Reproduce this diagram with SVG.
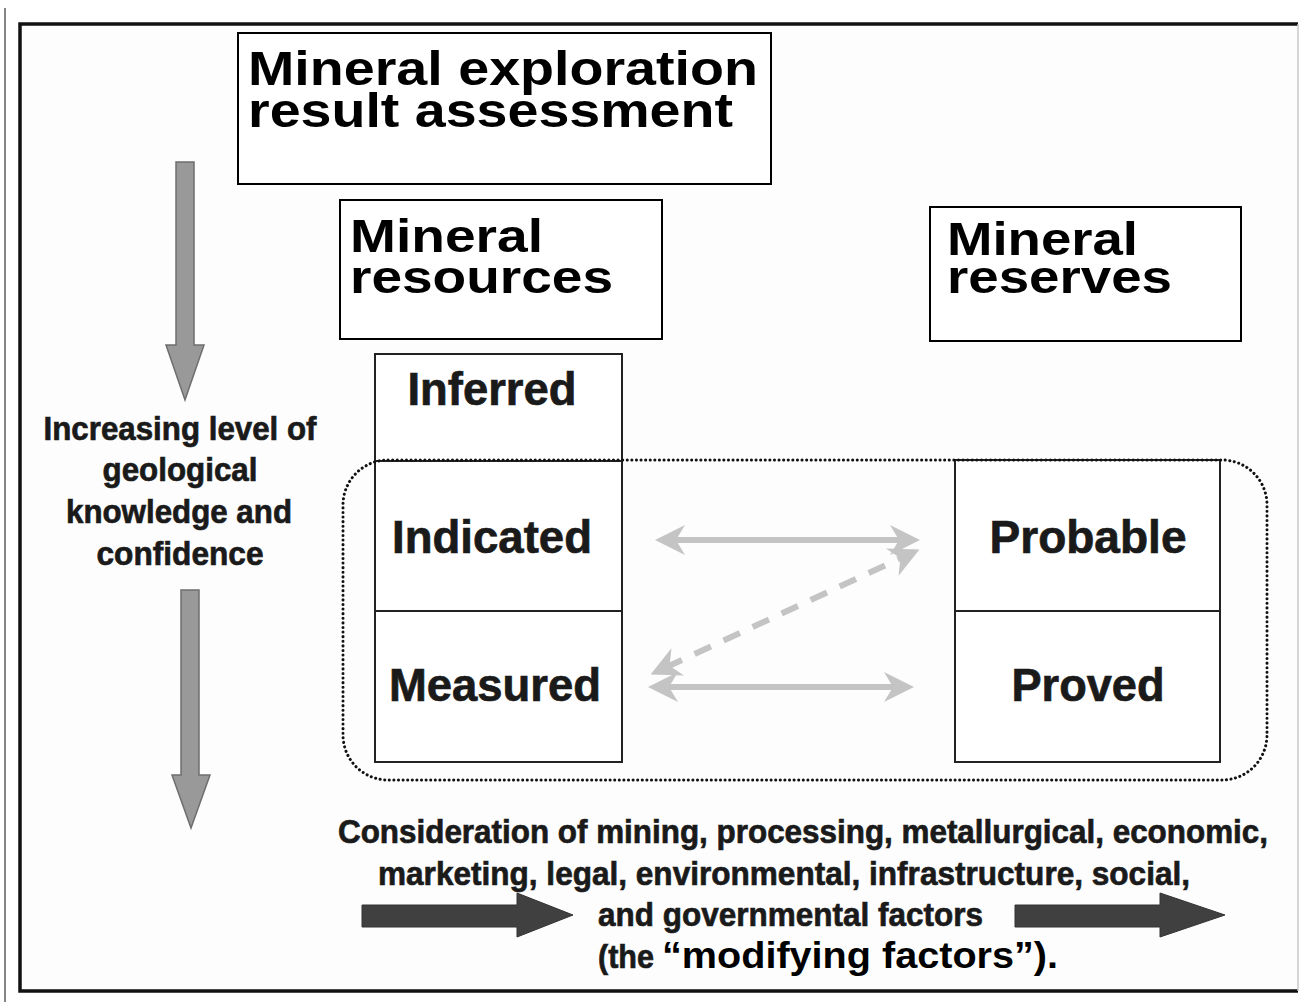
<svg xmlns="http://www.w3.org/2000/svg" width="1300" height="1002" viewBox="0 0 1300 1002">
<defs>
<style>
.box{fill:#fff;stroke:#000;stroke-width:2}
.cell{fill:#fff;stroke:#222;stroke-width:2}
.h{font-family:"Liberation Sans",Arial,sans-serif;font-weight:bold;fill:#000}
.c{font-family:"Liberation Sans Narrow","Liberation Sans",Arial,sans-serif;font-weight:bold;fill:#1a1a1a;stroke:#1a1a1a;stroke-width:0.7}
.ga{fill:#999;stroke:#6e6e6e;stroke-width:1.5}
.da{fill:#404040;stroke:#333;stroke-width:1}
.la{stroke:#c4c4c4;stroke-width:6;fill:none}
</style>
<marker id="lh" viewBox="0 0 10 10" refX="8" refY="5" markerWidth="5" markerHeight="5" orient="auto-start-reverse" markerUnits="strokeWidth">
<path d="M0,0 L10,5 L0,10 L3,5 Z" fill="#c4c4c4"/>
</marker>
</defs>
<rect width="1300" height="1002" fill="#fff"/>
<line x1="5" y1="8" x2="5" y2="1002" stroke="#333" stroke-width="1.2"/>
<g id="frame">
<rect x="20" y="24" width="1278" height="967" fill="#fdfdfd" stroke="none"/>
<path d="M1298,24 L20,24 L20,991 L1298,991" fill="none" stroke="#111" stroke-width="3.5"/>
<line x1="1298" y1="24" x2="1298" y2="991" stroke="#c8c8c8" stroke-width="1.5"/>
</g>
<g id="title">
<rect class="box" x="238" y="33" width="533" height="151" stroke-width="3"/>
<text class="h" x="248" y="85" font-size="49" textLength="510" lengthAdjust="spacingAndGlyphs">Mineral exploration</text>
<text class="h" x="248" y="127" font-size="49" textLength="485" lengthAdjust="spacingAndGlyphs">result assessment</text>
</g>
<g id="resources">
<rect class="box" x="340" y="200" width="322" height="139" stroke-width="1.5"/>
<text class="h" x="350" y="252" font-size="47" textLength="193" lengthAdjust="spacingAndGlyphs">Mineral</text>
<text class="h" x="350" y="293" font-size="47" textLength="263" lengthAdjust="spacingAndGlyphs">resources</text>
</g>
<g id="reserves">
<rect class="box" x="930" y="207" width="311" height="134" stroke-width="1.5"/>
<text class="h" x="947" y="255" font-size="47" textLength="191" lengthAdjust="spacingAndGlyphs">Mineral</text>
<text class="h" x="947" y="293" font-size="47" textLength="225" lengthAdjust="spacingAndGlyphs">reserves</text>
</g>
<g id="knowledge-arrow">
<path class="ga" d="M176,162 L194,162 L194,345 L204,345 L185,400 L166,345 L176,345 Z"/>
<path class="ga" d="M181,590 L199,590 L199,775 L210,775 L191,828 L172,775 L181,775 Z"/>
<text class="c" x="180" y="440" font-size="34" text-anchor="middle" textLength="273" lengthAdjust="spacingAndGlyphs">Increasing level of</text>
<text class="c" x="180" y="481" font-size="34" text-anchor="middle" textLength="155" lengthAdjust="spacingAndGlyphs">geological</text>
<text class="c" x="179" y="523" font-size="34" text-anchor="middle" textLength="226" lengthAdjust="spacingAndGlyphs">knowledge and</text>
<text class="c" x="180" y="565" font-size="34" text-anchor="middle" textLength="167" lengthAdjust="spacingAndGlyphs">confidence</text>
</g>
<g id="inferred">
<rect class="cell" x="375" y="354" width="247" height="107"/>
<text class="c" x="492" y="405" font-size="46" text-anchor="middle" textLength="169" lengthAdjust="spacingAndGlyphs">Inferred</text>
</g>
<g id="indicated">
<rect class="cell" x="375" y="461" width="247" height="150"/>
<text class="c" x="492" y="553" font-size="46" text-anchor="middle" textLength="200" lengthAdjust="spacingAndGlyphs">Indicated</text>
</g>
<g id="measured">
<rect class="cell" x="375" y="611" width="247" height="151"/>
<text class="c" x="495" y="701" font-size="46" text-anchor="middle" textLength="212" lengthAdjust="spacingAndGlyphs">Measured</text>
</g>
<g id="probable">
<rect class="cell" x="955" y="460" width="265" height="151"/>
<text class="c" x="1088" y="553" font-size="46" text-anchor="middle" textLength="197" lengthAdjust="spacingAndGlyphs">Probable</text>
</g>
<g id="proved">
<rect class="cell" x="955" y="611" width="265" height="151"/>
<text class="c" x="1088" y="701" font-size="46" text-anchor="middle" textLength="153" lengthAdjust="spacingAndGlyphs">Proved</text>
</g>
<g id="dotted-group">
<rect x="343" y="460" width="924" height="320" rx="45" ry="45" fill="none" stroke="#111" stroke-width="3" stroke-dasharray="0.1 4.5" stroke-linecap="round"/>
</g>
<g id="connectors">
<line class="la" x1="661" y1="540" x2="914" y2="540" marker-start="url(#lh)" marker-end="url(#lh)"/>
<line class="la" x1="654" y1="687" x2="908" y2="687" marker-start="url(#lh)" marker-end="url(#lh)"/>
<line class="la" x1="914" y1="552" x2="656" y2="672" stroke-dasharray="18 14" marker-start="url(#lh)" marker-end="url(#lh)"/>
</g>
<g id="modifying-factors">
<path class="da" d="M362,905 L517,905 L517,893 L573,915 L517,937 L517,927 L362,927 Z"/>
<path class="da" d="M1015,905 L1160,905 L1160,893 L1225,915 L1160,937 L1160,927 L1015,927 Z"/>
<text class="c" x="803" y="843" font-size="34" text-anchor="middle" textLength="930" lengthAdjust="spacingAndGlyphs">Consideration of mining, processing, metallurgical, economic,</text>
<text class="c" x="784" y="885" font-size="34" text-anchor="middle" textLength="812" lengthAdjust="spacingAndGlyphs">marketing, legal, environmental, infrastructure, social,</text>
<text class="c" x="598" y="926" font-size="34" textLength="385" lengthAdjust="spacingAndGlyphs">and governmental factors</text>
<text class="c" x="598" y="968" font-size="34" textLength="56" lengthAdjust="spacingAndGlyphs">(the</text>
<text class="h" x="662" y="968" font-size="36" textLength="396" lengthAdjust="spacingAndGlyphs">“modifying factors”).</text>
</g>
</svg>
